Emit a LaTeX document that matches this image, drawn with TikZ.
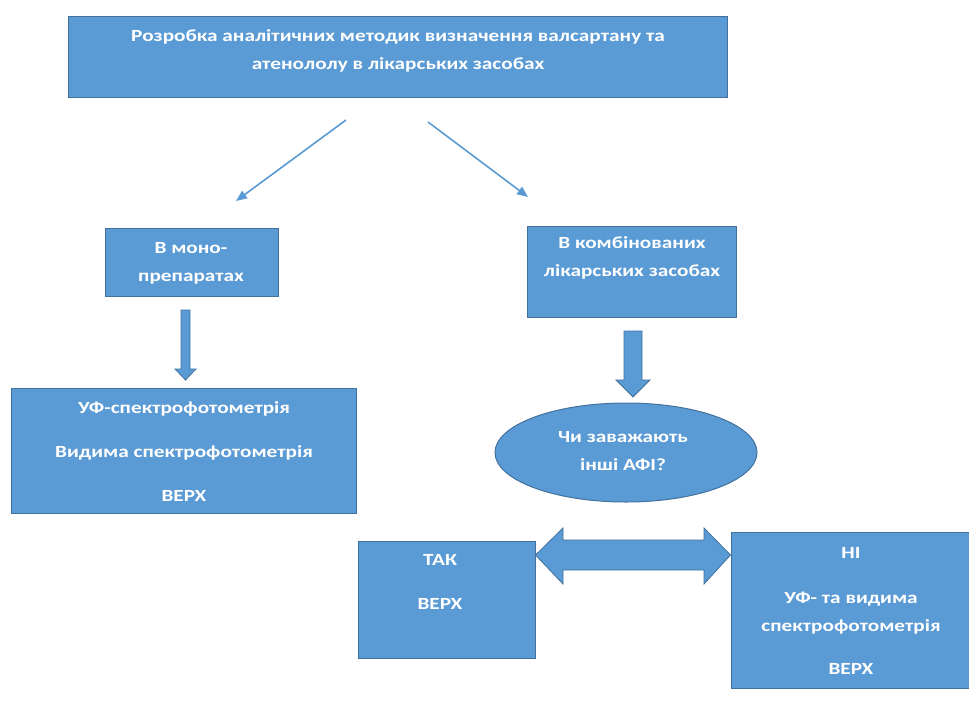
\documentclass[tikz,border=0pt]{standalone}
\usepackage{fontspec}
\setmainfont{Carlito}[FakeStretch=1.25]
\usetikzlibrary{shapes.geometric,arrows.meta}
\definecolor{boxfill}{HTML}{5B9BD5}
\definecolor{boxline}{HTML}{41719C}
\begin{document}
\begin{tikzpicture}[x=1pt,y=-1pt,
  box/.style={draw=boxline, fill=boxfill, line width=1pt, inner sep=0pt},
  txt/.style={text=white, font=\bfseries\fontsize{17}{28}\selectfont, align=center, inner sep=0pt},
  thin/.style={draw=boxfill, line width=1.6pt, -{Triangle[length=11pt,width=9pt]}},
  blk/.style={draw=boxline, fill=boxfill, line width=0.8pt}]
\useasboundingbox (0,0) rectangle (969,704);
\fill[white] (0,0) rectangle (969,704);
% boxes
\node[box, minimum width=659pt, minimum height=81pt] (top) at (397.5,56.5) {};
\node[box, minimum width=173pt, minimum height=68pt] (mono) at (191.5,262) {};
\node[box, minimum width=345pt, minimum height=125pt] (uf) at (183.5,450.5) {};
\node[box, minimum width=209pt, minimum height=91pt] (comb) at (631.5,271.5) {};
\node[box, ellipse, minimum width=262pt, minimum height=99pt] (q) at (626,452.5) {};
\node[box, minimum width=177pt, minimum height=117pt] (tak) at (446.5,599.5) {};
\node[box, minimum width=238pt, minimum height=156pt] (ni) at (850,610) {};
% texts
\node[txt] (toptxt) at (398,51) {Розробка аналітичних методик визначення валсартану та\\атенололу в лікарських засобах};
\node[txt] (monotxt) at (191,263) {В моно-\\препаратах};
\node[txt] (uftxt) at (184,452) {УФ-спектрофотометрія\\[16pt]Видима спектрофотометрія\\[16pt]ВЕРХ};
\node[txt] (combtxt) at (632,258) {В комбінованих\\лікарських засобах};
\node[txt] (qtxt) at (623,451.5) {Чи заважають\\інші АФІ?};
\node[txt] (taktxt) at (440,582) {ТАК\\[16pt]ВЕРХ};
\node[txt] (nitxt) at (851,610.5) {НІ\\[17pt]УФ- та видима\\спектрофотометрія\\[15pt]ВЕРХ};
% thin arrows
\coordinate (s1) at (346,120);
\coordinate (e1) at (236,201);
\coordinate (s2) at (428,122);
\coordinate (e2) at (528,197);
\draw[thin] (s1) -- (e1);
\draw[thin] (s2) -- (e2);
% block arrows
\draw[blk] (181,310) -- (190,310) -- (190,369) -- (196,369) -- (185.5,380) -- (175,369) -- (181,369) -- cycle;
\draw[blk] (624,331) -- (642,331) -- (642,380) -- (650,380) -- (633,397) -- (616,380) -- (624,380) -- cycle;
\draw[blk] (tak.east |- 0,555) -- (563,528) -- (563,540) -- (704,540) -- (704,528) -- (ni.west |- 0,555) -- (704,584) -- (704,570) -- (563,570) -- (563,584) -- cycle;
\end{tikzpicture}
\end{document}
